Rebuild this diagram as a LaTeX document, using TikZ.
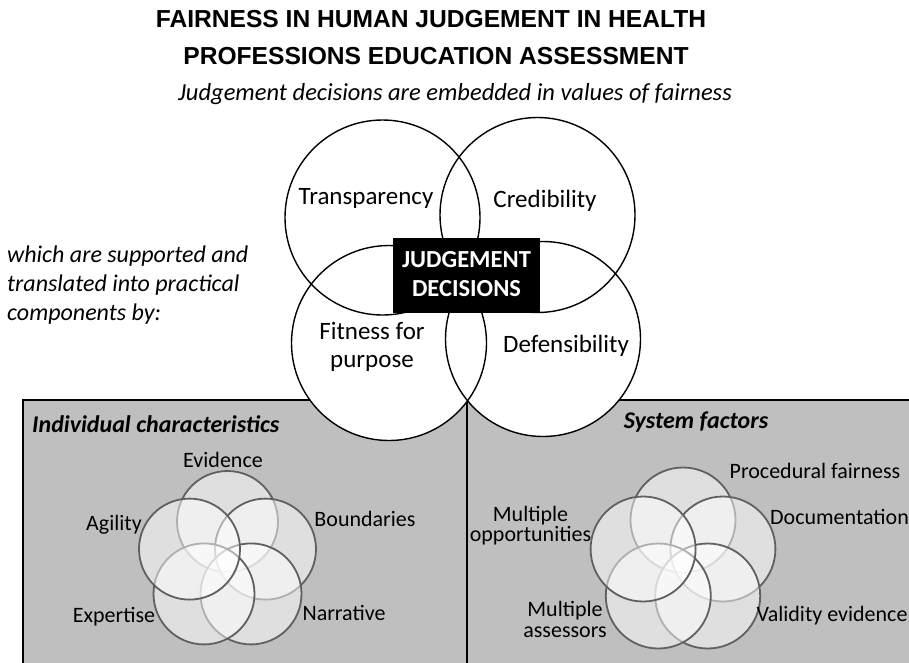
\documentclass[tikz,border=0pt]{standalone}
\usepackage{fontspec}
\setmainfont{Carlito}
\newfontfamily\headfont{Liberation Sans}
% centred / left-aligned line stacks whose baseline is the first line
\newcommand\stackc[2]{\vtop{\baselineskip=#1\relax\lineskiplimit=-100pt\halign{\hfil##\hfil\cr#2\crcr}}}
\newcommand\stackl[2]{\vtop{\baselineskip=#1\relax\lineskiplimit=-100pt\halign{##\hfil\cr#2\crcr}}}
\definecolor{panelgray}{RGB}{191,191,191}
\definecolor{ringgray}{RGB}{96,96,96}
\begin{document}
\begin{tikzpicture}[x=1pt,y=-1pt,
  txt/.style={inner sep=0pt, anchor=base},
  titletxt/.style={txt, font=\headfont\bfseries\fontsize{24.6}{28}\selectfont},
  bigtxt/.style={txt, font=\fontsize{25}{29}\selectfont},
  smalltxt/.style={txt, font=\fontsize{22}{26}\selectfont},
  headtxt/.style={txt, font=\bfseries\itshape\fontsize{24}{29}\selectfont},
  panel/.style={rectangle, fill=panelgray, draw=black, line width=1.5pt, inner sep=0pt},
  valuedisc/.style={circle, fill=white, minimum size=195pt, inner sep=0pt},
  valuering/.style={draw=black, line width=1.4pt},
  factor/.style={circle, inner sep=0pt, fill=white, fill opacity=0.5,
                 draw=ringgray, line width=1.8pt},
  decision/.style={rectangle, fill=black, inner sep=0pt, minimum width=147pt, minimum height=75pt}
]
\useasboundingbox (0,0) rectangle (909,662);
\clip (0,0) rectangle (909,662);

% heading
\node[titletxt] (title1) at (431,27) {FAIRNESS IN HUMAN JUDGEMENT IN HEALTH};
\node[titletxt] (title2) at (436,64) {PROFESSIONS EDUCATION ASSESSMENT};
\node[txt, font=\itshape\fontsize{24.5}{29}\selectfont] (subtitle) at (455,100)
  {Judgement decisions are embedded in values of fairness};

% the two lower panels
\node[panel, minimum width=444pt, minimum height=300pt] (indiv) at (245,550) {};
\node[panel, minimum width=470pt, minimum height=300pt] (system) at (702,550) {};

% four values of fairness around the decision box
\node[valuedisc] (transp) at (382.5,217.5) {};
\node[valuedisc] (cred)   at (537.5,215) {};
\node[valuedisc] (fit)    at (389,343) {};
\node[valuedisc] (defens) at (543,339) {};
\foreach \c in {transp,cred,fit,defens}
  \draw[valuering] (\c) circle[radius=97.5];

\node[decision] (decide) at (466.5,275.5) {};
\node[txt, text=white, font=\bfseries\fontsize{24.5}{29}\selectfont] (decidetxt) at (466.5,267)
  {\stackc{29pt}{JUDGEMENT\cr DECISIONS}};

\node[bigtxt] (transpl) at (366,204) {Transparency};
\node[bigtxt] (credl)   at (545,207) {Credibility};
\node[bigtxt] (fitl)    at (372,339) {\stackc{28pt}{Fitness for\cr purpose}};
\node[bigtxt] (defensl) at (566,352) {Defensibility};

\node[txt, anchor=base west, font=\itshape\fontsize{24}{29}\selectfont] (support) at (7,262)
  {\stackl{29pt}{which are supported and\cr translated into practical\cr components by:}};

% individual characteristics
\node[headtxt, anchor=base west] (indivh) at (32,432) {Individual characteristics};
\begin{scope}[every node/.append style={factor, minimum size=101pt}]
  \node (evid)  at (227.5,521.5) {};
  \node (bound) at (265.5,549.1) {};
  \node (narr)  at (251,593.9) {};
  \node (expert) at (204,593.9) {};
  \node (agil)  at (189.5,549.1) {};
\end{scope}
\node[smalltxt] (evidl)  at (223,467) {Evidence};
\node[smalltxt] (agill)  at (114,530) {Agility};
\node[smalltxt] (boundl) at (365,526) {Boundaries};
\node[smalltxt] (expertl) at (114,622.5) {Expertise};
\node[smalltxt] (narrl)  at (344,620) {Narrative};

% system factors
\node[headtxt] (systemh) at (696,428) {System factors};
\begin{scope}[every node/.append style={factor, minimum size=105pt}]
  \node (proc)  at (683,520) {};
  \node (docu)  at (722.9,549) {};
  \node (valid) at (707.7,596) {};
  \node (assess) at (658.3,596) {};
  \node (oppor) at (643.1,549) {};
\end{scope}
\node[smalltxt] (procl)  at (815,478) {Procedural fairness};
\node[smalltxt] (docul)  at (839.5,524) {Documentation};
\node[smalltxt] (opporl) at (530.5,521.5) {\stackc{20pt}{Multiple\cr opportunities}};
\node[smalltxt] (assessl) at (565,616.5) {\stackc{20.5pt}{Multiple\cr assessors}};
\node[smalltxt] (validl) at (832,621.5) {Validity evidence};
\end{tikzpicture}
\end{document}
